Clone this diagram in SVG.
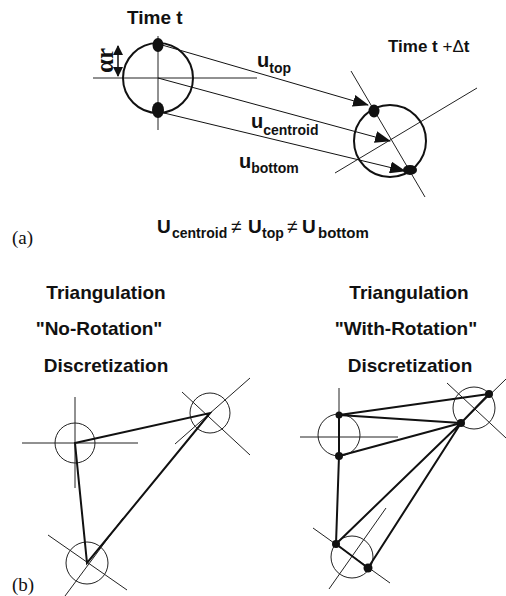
<svg xmlns="http://www.w3.org/2000/svg" width="506" height="596" viewBox="0 0 506 596">
<defs>
<style>
.t{font-family:"Liberation Sans",Arial,sans-serif;font-weight:bold;fill:#111}
.s{font-family:"Liberation Serif","Times New Roman",serif;fill:#111}
.thin{stroke:#222;stroke-width:1;fill:none}
.circ{stroke:#222;stroke-width:1;fill:none}
.bold{stroke:#111;stroke-width:2;fill:none}
.dot{fill:#111}
.arr{stroke:#111;stroke-width:1;fill:none;marker-end:url(#ah)}
</style>
<marker id="ah" markerUnits="userSpaceOnUse" markerWidth="16" markerHeight="12" viewBox="0 0 16 12" refX="15" refY="6" orient="auto">
<path d="M0,0 L16,6 L0,12 Z" fill="#111"/>
</marker>
<marker id="sa" markerUnits="userSpaceOnUse" markerWidth="10" markerHeight="10" viewBox="0 0 10 10" refX="9" refY="5" orient="auto-start-reverse">
<path d="M0,0 L10,5 L0,10 Z" fill="#111"/>
</marker>
</defs>
<rect width="506" height="596" fill="#fff"/>

<!-- Part (a) -->
<g id="time-t">
<text class="t" x="127" y="24" font-size="19">Time t</text>
<line class="thin" x1="93" y1="78" x2="257" y2="78"/>
<line class="thin" x1="158" y1="36" x2="158" y2="130"/>
<circle cx="158" cy="78" r="35" class="bold"/>
<ellipse class="dot" cx="158" cy="45" rx="5.5" ry="7"/>
<ellipse class="dot" cx="158" cy="110" rx="6" ry="8"/>
<line x1="118" y1="46" x2="118" y2="76" stroke="#111" stroke-width="1.5" marker-start="url(#sa)" marker-end="url(#sa)"/>
<text class="s" font-size="25" font-weight="bold" transform="translate(113,73) rotate(-90)">αr</text>
</g>

<g id="time-t-dt">
<text class="t" x="388" y="52" font-size="17">Time t <tspan font-weight="normal">+Δ</tspan>t</text>
<line class="thin" x1="351" y1="71" x2="425" y2="197"/>
<line class="thin" x1="335" y1="173" x2="477" y2="88"/>
<circle cx="390" cy="141" r="36" class="bold"/>
<ellipse class="dot" cx="374" cy="111" rx="5.5" ry="6.5"/>
<ellipse class="dot" cx="410" cy="170" rx="7" ry="5"/>
</g>

<g id="connectors">
<line class="arr" x1="162" y1="45" x2="368" y2="105"/>
<line class="arr" x1="158" y1="78" x2="390" y2="141"/>
<line class="arr" x1="164" y1="113" x2="405" y2="171"/>
</g>

<g id="labels-a">
<text class="t" x="257" y="67" font-size="20">u<tspan font-size="14" dy="6">top</tspan></text>
<text class="t" x="251" y="128" font-size="20">u<tspan font-size="14" dy="7">centroid</tspan></text>
<text class="t" x="239" y="168" font-size="20">u<tspan font-size="14" dy="5">bottom</tspan></text>
<text class="s" x="12" y="244" font-size="19">(a)</text>
<text class="t" y="233" font-size="19"><tspan x="157">U</tspan><tspan x="172" dy="5" font-size="14">centroid</tspan><tspan x="231" dy="-5" font-weight="normal">≠</tspan><tspan x="248">U</tspan><tspan x="262" dy="5" font-size="14">top</tspan><tspan x="287" dy="-5" font-weight="normal">≠</tspan><tspan x="302">U</tspan><tspan x="318" dy="5" font-size="15">bottom</tspan></text>
</g>

<!-- Part (b) left -->
<g id="title-no-rotation">
<text class="t" x="106" y="299" font-size="19" text-anchor="middle">Triangulation</text>
<text class="t" x="99" y="335" font-size="19" text-anchor="middle">"No-Rotation"</text>
<text class="t" x="106" y="372" font-size="19" text-anchor="middle">Discretization</text>
</g>
<g id="left-node-1">
<line class="thin" x1="22" y1="443" x2="138" y2="443"/>
<line class="thin" x1="75" y1="397" x2="75" y2="488"/>
<circle class="circ" cx="75" cy="443" r="20"/>
</g>
<g id="left-node-2">
<line class="thin" x1="182" y1="392" x2="250" y2="455"/>
<line class="thin" x1="250" y1="378" x2="175" y2="444"/>
<circle class="circ" cx="210" cy="413" r="20"/>
</g>
<g id="left-node-3">
<line class="thin" x1="48" y1="535" x2="127" y2="590"/>
<line class="thin" x1="65" y1="596" x2="123" y2="518"/>
<circle class="circ" cx="87" cy="563" r="21"/>
</g>
<g id="left-triangle">
<polygon class="bold" points="75,443 210,413 87,563"/>
</g>
<text class="s" x="12" y="591" font-size="19">(b)</text>

<!-- Part (b) right -->
<g id="title-with-rotation">
<text class="t" x="409" y="299" font-size="19" text-anchor="middle">Triangulation</text>
<text class="t" x="406" y="335" font-size="19" text-anchor="middle">"With-Rotation"</text>
<text class="t" x="410" y="372" font-size="19" text-anchor="middle">Discretization</text>
</g>
<g id="right-node-1">
<line class="thin" x1="300" y1="437" x2="398" y2="437"/>
<line class="thin" x1="339" y1="388" x2="339" y2="456"/>
<circle class="circ" cx="339" cy="435" r="21"/>
</g>
<g id="right-node-2">
<line class="thin" x1="447" y1="383" x2="506" y2="438"/>
<line class="thin" x1="506" y1="379" x2="461" y2="423"/>
<circle class="circ" cx="474" cy="408" r="21"/>
</g>
<g id="right-node-3">
<line class="thin" x1="313" y1="528" x2="390" y2="583"/>
<line class="thin" x1="329" y1="589" x2="386" y2="508"/>
<circle class="circ" cx="352" cy="557" r="21"/>
</g>
<g id="right-mesh">
<path class="bold" d="M339,415 L489,394 M339,415 L461,423 M339,415 L339,456 M339,456 L461,423 M339,456 L336,544 M336,544 L461,423 M336,544 L368,568 M368,568 L461,423 M461,423 L489,394"/>
<circle class="dot" cx="339" cy="415" r="3.5"/>
<circle class="dot" cx="339" cy="456" r="4"/>
<circle class="dot" cx="489" cy="394" r="4"/>
<circle class="dot" cx="461" cy="423" r="4"/>
<circle class="dot" cx="336" cy="544" r="4"/>
<circle class="dot" cx="368" cy="568" r="4.5"/>
</g>
</svg>
